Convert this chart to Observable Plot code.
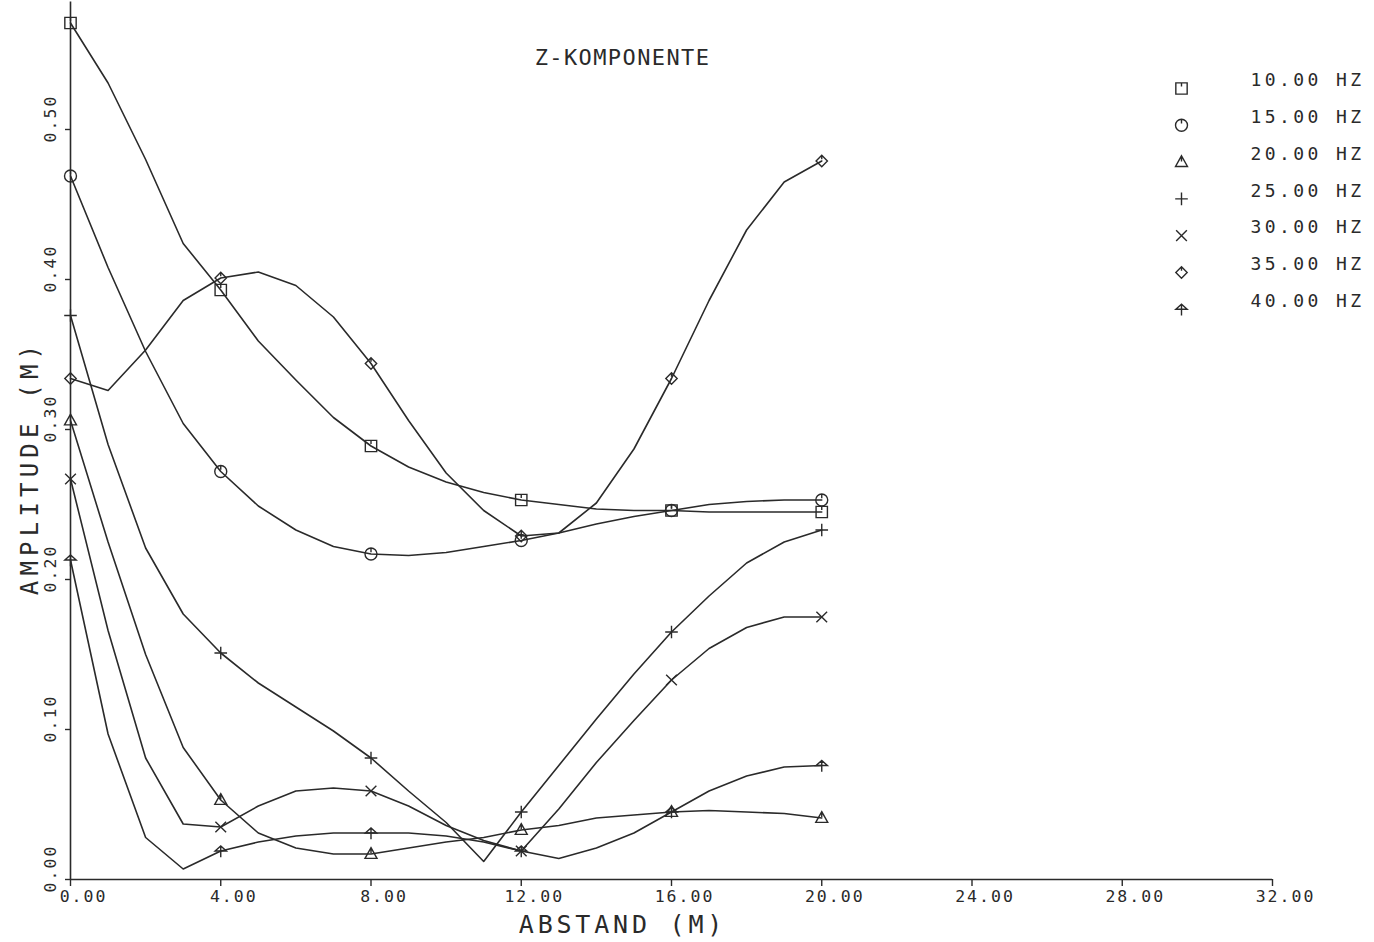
<!DOCTYPE html>
<html>
<head>
<meta charset="utf-8">
<script src="https://cdn.jsdelivr.net/npm/d3@7"></script>
<script src="https://cdn.jsdelivr.net/npm/@observablehq/plot@0.6"></script>
<style>
  body { margin: 0; background: #ffffff; }
  #chart svg { display: block; background: #ffffff; }
</style>
</head>
<body>
<div id="chart"></div>
<script>
// ---- data ----
const distance = [0,1,2,3,4,5,6,7,8,9,10,11,12,13,14,15,16,17,18,19,20];
const markerDistance = [0,4,8,12,16,20];
const xTicks = [0,4,8,12,16,20,24,28,32];
const yTicks = [0,0.1,0.2,0.3,0.4,0.5];
const seriesLabels = ["10.00 HZ","15.00 HZ","20.00 HZ","25.00 HZ","30.00 HZ","35.00 HZ","40.00 HZ"];

const hz10 = [0.571,0.531,0.480,0.424,0.393,0.359,0.333,0.308,0.289,0.275,0.265,0.258,0.253,0.250,0.247,0.246,0.246,0.245,0.245,0.245,0.245];
const hz15 = [0.469,0.408,0.352,0.304,0.272,0.249,0.233,0.222,0.217,0.216,0.218,0.222,0.226,0.231,0.237,0.242,0.246,0.250,0.252,0.253,0.253];
const hz20 = [0.306,0.225,0.150,0.088,0.053,0.031,0.021,0.017,0.017,0.021,0.025,0.028,0.033,0.036,0.041,0.043,0.045,0.046,0.045,0.044,0.041];
const hz25 = [0.376,0.290,0.221,0.177,0.151,0.131,0.115,0.099,0.081,0.059,0.038,0.012,0.045,0.076,0.107,0.137,0.165,0.189,0.211,0.225,0.233];
const hz30 = [0.267,0.166,0.081,0.037,0.035,0.049,0.059,0.061,0.059,0.049,0.036,0.026,0.019,0.047,0.078,0.106,0.133,0.154,0.168,0.175,0.175];
const hz35 = [0.334,0.326,0.353,0.386,0.401,0.405,0.396,0.375,0.344,0.306,0.271,0.246,0.229,0.231,0.251,0.287,0.334,0.386,0.433,0.465,0.479];
const hz40 = [0.213,0.097,0.028,0.007,0.019,0.025,0.029,0.031,0.031,0.031,0.029,0.025,0.019,0.014,0.021,0.031,0.045,0.059,0.069,0.075,0.076];

const titleText = "Z-KOMPONENTE";
const xLabel = "ABSTAND (M)";
const yLabel = "AMPLITUDE (M)";

// ---- plotter-style symbols ----
const rad = size => Math.sqrt(size / Math.PI);
const symSquare = {draw(c, s){ const r = rad(s)*0.9; c.moveTo(-r,-r); c.lineTo(r,-r); c.lineTo(r,r); c.lineTo(-r,r); c.closePath(); c.moveTo(0,-r); c.lineTo(0,-r*0.35); }};
const symCircle = {draw(c, s){ const r = rad(s)*0.95; c.moveTo(r,0); c.arc(0,0,r,0,2*Math.PI); c.moveTo(0,-r); c.lineTo(0,-r*0.3); }};
const symTriangle = {draw(c, s){ const r = rad(s); c.moveTo(0,-r); c.lineTo(r*0.95,r*0.7); c.lineTo(-r*0.95,r*0.7); c.closePath(); c.moveTo(0,-r); c.lineTo(0,-r*0.1); }};
const symPlus = {draw(c, s){ const r = rad(s); c.moveTo(-r,0); c.lineTo(r,0); c.moveTo(0,-r); c.lineTo(0,r); }};
const symTimes = {draw(c, s){ const r = rad(s)*0.85; c.moveTo(-r,-r); c.lineTo(r,r); c.moveTo(r,-r); c.lineTo(-r,r); }};
const symDiamond = {draw(c, s){ const r = rad(s)*0.9; c.moveTo(0,-r); c.lineTo(r,0); c.lineTo(0,r); c.lineTo(-r,0); c.closePath(); c.moveTo(0,-r); c.lineTo(0,-r*0.3); }};
const symArrow = {draw(c, s){ const r = rad(s); c.moveTo(-r*0.9,0); c.lineTo(0,-r*0.8); c.lineTo(r*0.9,0); c.closePath(); c.moveTo(0,-r*0.8); c.lineTo(0,r); }};

const seriesValues = [hz10, hz15, hz20, hz25, hz30, hz35, hz40];
const seriesSymbols = [symSquare, symCircle, symTriangle, symPlus, symTimes, symDiamond, symArrow];

const ink = "#2a2a2a";
const mono = "DejaVu Sans Mono";
const textSpacing = []; // letter-spacing per text mark, in mark order

const marks = [];
// axes lines
marks.push(Plot.ruleY([0], {stroke: ink, strokeWidth: 1.6}));
marks.push(Plot.ruleX([0], {y1: 0, y2: 0.585, stroke: ink, strokeWidth: 1.6}));
marks.push(Plot.axisX({ticks: xTicks, tickSize: 7, tickFormat: () => "", stroke: ink, strokeWidth: 1.4}));
marks.push(Plot.axisY({ticks: yTicks, tickSize: 5, tickFormat: () => "", stroke: ink, strokeWidth: 1.4}));

// series lines and markers
seriesValues.forEach((vals) => {
  marks.push(Plot.line(distance, {x: d => d, y: (d, i) => vals[i], stroke: ink, strokeWidth: 1.6, curve: "linear"}));
});
seriesValues.forEach((vals, k) => {
  marks.push(Plot.dot(markerDistance, {x: d => d, y: d => vals[distance.indexOf(d)], symbol: seriesSymbols[k], r: 6.3, stroke: ink, strokeWidth: 1.4, fill: "none"}));
});

// tick labels
marks.push(Plot.text(xTicks, {x: d => d, y: 0, text: d => d.toFixed(2), dx: 13, dy: 17, fontSize: 16.5, fontFamily: mono, fill: ink}));
textSpacing.push(2);
marks.push(Plot.text(yTicks, {x: 0, y: d => d, text: d => d.toFixed(2), rotate: -90, dx: -20, dy: -11, fontSize: 16.5, fontFamily: mono, fill: ink}));
textSpacing.push(2);

// titles
marks.push(Plot.text([titleText], {frameAnchor: "top", textAnchor: "middle", lineAnchor: "middle", dx: -49, dy: 48, fontSize: 22, fontFamily: mono, fill: ink}));
textSpacing.push(1.4);
marks.push(Plot.text([xLabel], {frameAnchor: "bottom", textAnchor: "middle", lineAnchor: "middle", dx: -49, dy: 45, fontSize: 25, fontFamily: mono, fill: ink}));
textSpacing.push(3.8);
marks.push(Plot.text([yLabel], {frameAnchor: "left", textAnchor: "middle", lineAnchor: "middle", rotate: -90, dx: -40, dy: 23, fontSize: 24, fontFamily: mono, fill: ink}));
textSpacing.push(5.2);

// legend
seriesLabels.forEach((lab, k) => {
  marks.push(Plot.dot([lab], {frameAnchor: "top-right", dx: -91, dy: 79 + k * 36.8, symbol: seriesSymbols[k], r: 6.3, stroke: ink, strokeWidth: 1.4, fill: "none"}));
  marks.push(Plot.text([lab], {frameAnchor: "top-right", textAnchor: "start", lineAnchor: "middle", dx: -22, dy: 71 + k * 36.8, fontSize: 18, fontFamily: mono, fill: ink}));
  textSpacing.push(3.4);
});

const chart = Plot.plot({
  width: 1374,
  height: 942,
  marginLeft: 70,
  marginRight: 102,
  marginTop: 9,
  marginBottom: 63,
  style: {background: "#ffffff", color: ink, fontFamily: mono},
  x: {domain: [0, 32], label: null},
  y: {domain: [0, 0.58], label: null},
  marks
});

// letter spacing for the plotter-like lettering
d3.select(chart).selectAll("g[aria-label='text']").each(function(d, i) {
  const sp = textSpacing[i];
  if (sp != null) d3.select(this).selectAll("text").style("letter-spacing", sp + "px");
});

document.getElementById("chart").appendChild(chart);
</script>
</body>
</html>
